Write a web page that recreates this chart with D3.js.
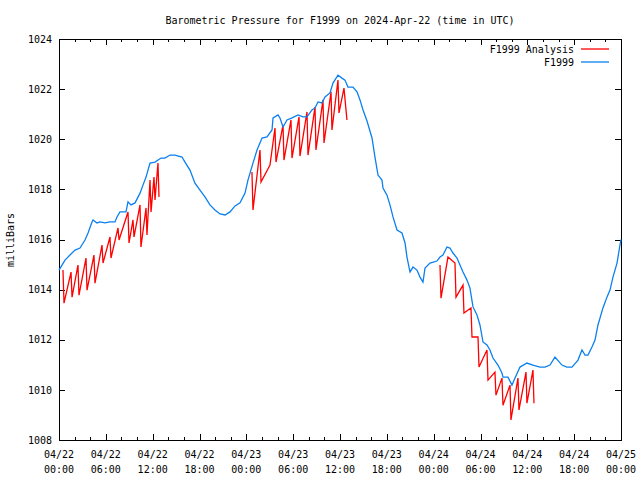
<!DOCTYPE html>
<html>
<head>
<meta charset="utf-8">
<script src="https://cdn.jsdelivr.net/npm/d3@7"></script>
<style>
body { margin: 0; background: #fff; }
text { font-family: "DejaVu Sans Mono", "Liberation Mono", monospace; font-size: 10px; fill: #000; }
</style>
</head>
<body>
<svg id="chart" width="640" height="480"></svg>
<script>
// hours after 2024-04-22 00:00 UTC
var startTime = Date.UTC(2024, 3, 22, 0, 0)
var endTime = Date.UTC(2024, 3, 25, 0, 0)

var yTicks = [1008, 1010, 1012, 1014, 1016, 1018, 1020, 1022, 1024]

var seriesNames = ["F1999 Analysis", "F1999"]
var seriesColors = ["#ff0000", "#0a80f0"]

// F1999 observed
var obsHours = [0, 0.77, 1.41, 2.05, 2.69, 3.33, 3.72, 4.23, 4.36, 4.87,
	5.25, 5.89, 6.53, 7.17, 7.43, 7.81, 8.58, 8.84, 9.22, 9.74,
	10.38, 10.76, 11.15, 11.66, 12.30, 13.07, 13.58, 14.22, 14.86, 15.76,
	16.14, 16.78, 17.42, 18.06, 18.70, 19.34, 19.98, 20.63, 21.27, 21.91,
	22.55, 23.19, 23.83, 24.21, 24.85, 25.37, 26.01, 26.65, 27.29, 27.42,
	28.06, 28.31, 28.70, 29.21, 29.85, 30.62, 31.26, 31.77, 32.41, 32.80,
	33.18, 33.69, 34.08, 34.72, 35.10, 35.74, 36.25, 36.64, 37.02, 37.66,
	38.18, 38.56, 38.95, 39.46, 40.10, 40.48, 40.87, 41.38, 41.51, 42.02,
	42.40, 42.79, 43.30, 43.94, 44.33, 44.58, 44.97, 45.35, 45.86, 46.25,
	46.63, 46.89, 47.53, 48.42, 48.81, 49.19, 49.71, 50.09, 50.47, 50.99,
	51.37, 51.76, 52.27, 52.65, 53.04, 53.55, 53.93, 54.32, 54.83, 55.21,
	55.60, 56.24, 56.75, 56.88, 57.52, 58.03, 58.42, 59.06, 59.95, 60.72,
	61.62, 62.26, 62.90, 63.54, 64.43, 65.08, 65.72, 66.49, 67.00, 67.39,
	67.77, 68.28, 68.67, 69.05, 69.69, 70.20, 70.59, 70.97, 71.49, 71.87,
	72.0]
var obsValues = [1014.78, 1015.18, 1015.38, 1015.58, 1015.66, 1015.98, 1016.26, 1016.70, 1016.78, 1016.66,
	1016.70, 1016.66, 1016.70, 1016.70, 1016.90, 1017.10, 1017.10, 1017.50, 1017.38, 1017.46,
	1017.85, 1018.17, 1018.49, 1019.05, 1019.09, 1019.25, 1019.25, 1019.37, 1019.37, 1019.29,
	1019.09, 1018.77, 1018.25, 1017.97, 1017.70, 1017.38, 1017.18, 1017.02, 1016.98, 1017.10,
	1017.34, 1017.46, 1017.85, 1018.37, 1019.05, 1019.57, 1020.05, 1020.09, 1020.37, 1020.85,
	1020.97, 1020.85, 1020.49, 1020.77, 1020.85, 1020.97, 1020.89, 1020.89, 1021.17, 1021.25,
	1021.49, 1021.45, 1021.69, 1021.85, 1022.24, 1022.56, 1022.44, 1022.36, 1022.08, 1022.08,
	1021.89, 1021.57, 1021.17, 1020.73, 1020.05, 1019.29, 1018.57, 1018.37, 1018.05, 1017.77,
	1017.38, 1016.90, 1016.38, 1016.26, 1015.86, 1015.30, 1014.70, 1014.90, 1014.78, 1014.50,
	1014.30, 1014.86, 1015.06, 1015.14, 1015.30, 1015.38, 1015.70, 1015.66, 1015.46, 1015.26,
	1014.98, 1014.70, 1014.38, 1014.06, 1013.31, 1012.99, 1012.59, 1011.91, 1011.79, 1011.59,
	1011.27, 1010.99, 1010.67, 1010.51, 1010.51, 1010.19, 1010.47, 1010.91, 1011.07, 1010.99,
	1010.91, 1010.91, 1010.99, 1011.31, 1010.99, 1010.91, 1010.91, 1011.19, 1011.59, 1011.39,
	1011.39, 1011.71, 1011.99, 1012.59, 1013.27, 1013.70, 1013.98, 1014.50, 1015.06, 1015.78,
	1016.0]

// F1999 Analysis, null = gap between runs
var anaHours = [0.51, 0.64, 1.54, 1.67, 2.43, 2.56, 3.46, 3.59, 4.48, 4.61,
	5.51, 5.64, 6.53, 6.66, 7.56, 7.69, 8.84, 8.97, 9.48, 9.61,
	10.38, 10.50, 11.15, 11.27, 11.66, 11.79, 12.17, 12.30, 12.68, 12.81, null,
	24.72, 24.85, 25.75, 25.88, 27.03, 27.67, 27.80, 28.70, 28.82, 29.72,
	29.85, 30.75, 30.87, 31.77, 31.90, 32.80, 32.92, 33.82, 33.95, 34.85,
	34.97, 35.74, 35.87, 36.51, 36.89, null,
	48.81, 48.94, 49.83, 50.73, 50.86, 51.76, 51.88, 52.78, 52.91, 53.68,
	53.81, 54.83, 54.96, 55.85, 55.98, 56.75, 56.88, 57.78, 57.90, 58.80,
	58.93, 59.83, 59.95, 60.72, 60.85]
var anaValues = [1014.78, 1013.46, 1014.70, 1013.70, 1014.98, 1013.78, 1015.26, 1013.98, 1015.38, 1014.26,
	1015.78, 1015.06, 1016.10, 1015.26, 1016.46, 1015.98, 1017.10, 1015.86, 1016.78, 1016.10,
	1017.38, 1015.70, 1017.26, 1016.18, 1018.37, 1017.10, 1018.49, 1017.58, 1019.05, 1017.70, null,
	1018.69, 1017.18, 1019.57, 1018.29, 1018.97, 1020.45, 1019.09, 1020.57, 1019.17, 1020.77,
	1019.25, 1020.89, 1019.33, 1021.09, 1019.37, 1021.29, 1019.57, 1021.57, 1019.85, 1021.89,
	1020.37, 1022.36, 1021.05, 1022.04, 1020.77, null,
	1014.98, 1013.66, 1015.30, 1015.06, 1013.70, 1014.18, 1013.07, 1013.27, 1012.11, 1012.11,
	1010.91, 1011.59, 1010.39, 1010.71, 1009.79, 1010.47, 1009.39, 1010.19, 1008.80, 1010.47,
	1009.20, 1010.71, 1009.47, 1010.79, 1009.47]

var plotL = 59, plotR = 621, plotT = 39, plotB = 440

var svg = d3.select("#chart")

var x = d3.scaleUtc().domain([new Date(startTime), new Date(endTime)]).range([plotL, plotR])
var y = d3.scaleLinear().domain([1008, 1024]).range([plotB, plotT])

function toPoints(hours, values){
	return hours.map(function(h, i){
		return h == null ? null : {t: new Date(startTime + h * 3600e3), v: values[i]}
	})
}

var majorTicks = d3.utcHour.every(6).range(new Date(startTime), new Date(endTime + 1))
var minorTicks = d3.utcHour.every(2).range(new Date(startTime), new Date(endTime + 1))

// axes, ticks pointing inward like gnuplot
function axisGroup(axis, tx, ty){
	var g = svg.append("g").attr("transform", "translate(" + tx + "," + ty + ")").call(axis)
	g.attr("font-family", null).attr("font-size", null)
	return g
}
axisGroup(d3.axisBottom(x).tickValues(minorTicks).tickSize(-3).tickFormat(""), 0, plotB)
axisGroup(d3.axisBottom(x).tickValues(majorTicks).tickSize(-6).tickFormat(""), 0, plotB)
axisGroup(d3.axisTop(x).tickValues(minorTicks).tickSize(-3).tickFormat(""), 0, plotT)
axisGroup(d3.axisTop(x).tickValues(majorTicks).tickSize(-6).tickFormat(""), 0, plotT)
var gy = axisGroup(d3.axisLeft(y).tickValues(yTicks).tickSize(-6).tickPadding(7).tickFormat(d3.format("d")), plotL, 0)
axisGroup(d3.axisRight(y).tickValues(yTicks).tickSize(-6).tickFormat(""), plotR, 0)

svg.selectAll(".domain").remove()
svg.selectAll(".tick line").attr("stroke", "#000").attr("shape-rendering", "crispEdges")

var fmtDay = d3.utcFormat("%m/%d"), fmtHour = d3.utcFormat("%H:%M")
var xl = svg.append("g").selectAll("text").data(majorTicks).join("text")
	.attr("text-anchor", "middle")
	.attr("x", function(d){ return x(d) })
	.attr("y", plotB + 18)
xl.append("tspan").attr("x", function(d){ return x(d) }).text(function(d){ return fmtDay(d) })
xl.append("tspan").attr("x", function(d){ return x(d) }).attr("dy", 15).text(function(d){ return fmtHour(d) })

// border
svg.append("rect").attr("x", plotL + 0.5).attr("y", plotT + 0.5).attr("width", plotR - plotL).attr("height", plotB - plotT)
	.attr("fill", "none").attr("stroke", "#000")

var line = d3.line().defined(function(d){ return d != null })
	.x(function(d){ return x(d.t) }).y(function(d){ return y(d.v) })

svg.append("path").datum(toPoints(anaHours, anaValues)).attr("d", line)
	.attr("fill", "none").attr("stroke", seriesColors[0]).attr("stroke-width", 1.3)
svg.append("path").datum(toPoints(obsHours, obsValues)).attr("d", line)
	.attr("fill", "none").attr("stroke", seriesColors[1]).attr("stroke-width", 1.3)

// title + labels
svg.append("text").attr("x", 340).attr("y", 24).attr("text-anchor", "middle")
	.text("Barometric Pressure for F1999 on 2024-Apr-22 (time in UTC)")
svg.append("text").attr("transform", "translate(14,240) rotate(-90)").attr("text-anchor", "middle")
	.text("milliBars")

// legend
var lg = svg.append("g").selectAll("g").data(seriesNames).join("g")
	.attr("transform", function(d, i){ return "translate(0," + (49 + i * 13) + ")" })
lg.append("text").attr("x", 574).attr("y", 4).attr("text-anchor", "end").text(function(d){ return d })
lg.append("line").attr("x1", 581).attr("x2", 609).attr("y1", 0).attr("y2", 0)
	.attr("stroke", function(d, i){ return seriesColors[i] }).attr("stroke-width", 1.3)
</script>
</body>
</html>
